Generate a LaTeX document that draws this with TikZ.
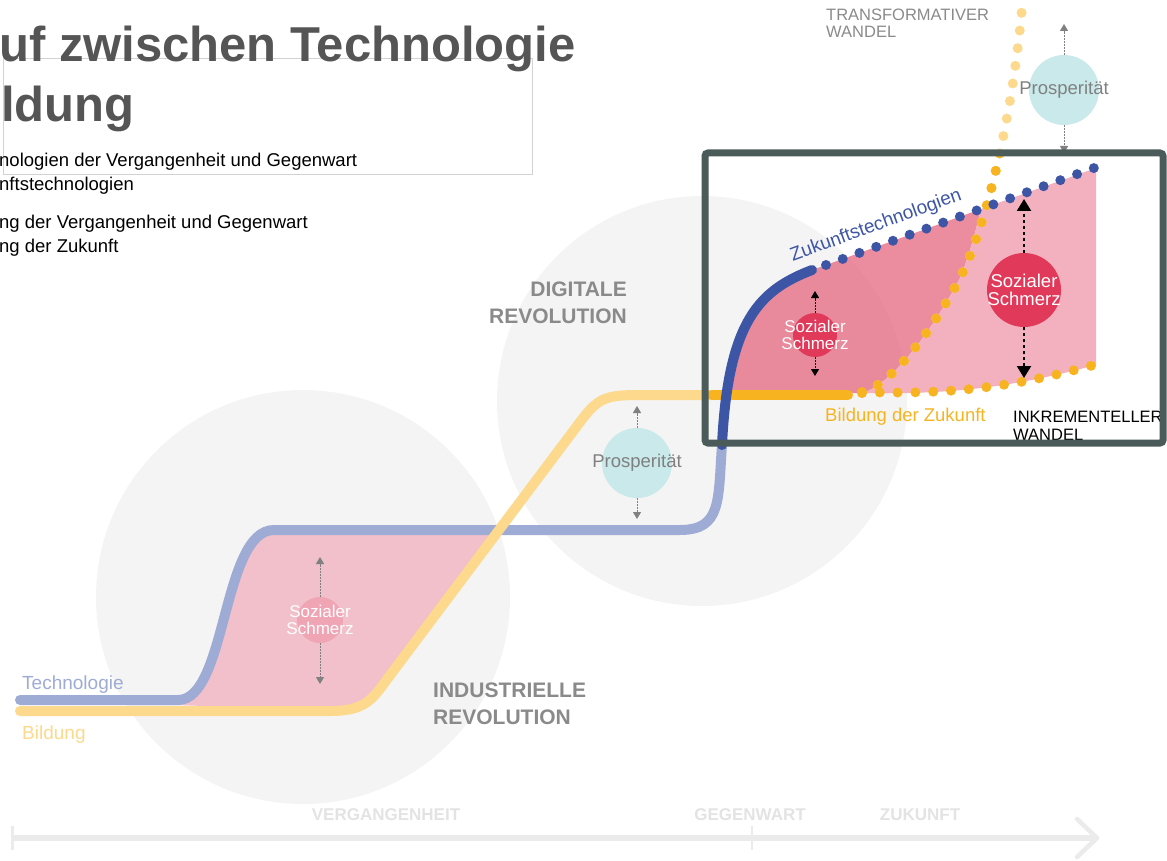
\documentclass[tikz,border=0pt]{standalone}
\usepackage{fontspec}
\setmainfont{Liberation Sans}
\usetikzlibrary{arrows.meta}

\definecolor{techlight}{HTML}{9EABD4}
\definecolor{techdark}{HTML}{3D55A5}
\definecolor{edulight}{HTML}{FCD98C}
\definecolor{edudark}{HTML}{F7B320}
\definecolor{bggray}{HTML}{F4F4F4}
\definecolor{painleft}{HTML}{F2C0CA}
\definecolor{painmid}{HTML}{E5667F}
\definecolor{painright}{HTML}{F3B1BF}
\definecolor{painball}{HTML}{E0395A}
\definecolor{painfaint}{HTML}{F0A5B5}
\definecolor{prosball}{HTML}{C9E9EA}
\definecolor{boxgray}{HTML}{4B5B5A}
\definecolor{labelgray}{HTML}{8A8A8A}
\definecolor{titlegray}{HTML}{555555}
\definecolor{axisgray}{HTML}{EBEBEB}

\newcommand{\fs}[1]{\fontsize{#1}{#1}\selectfont}
\newcommand{\transformpath}{(862,393) .. controls (890,385) and (930,335) .. (960,278) .. controls (985,230) and (1012,120) .. (1022,8)}

\tikzset{
  band/.style={line width=10pt, line cap=round},
  dotline/.style={line width=10pt, line cap=round, dash pattern=on 0pt off 17.8pt},
  ball/.style={circle, inner sep=0pt, draw=none},
  balltext/.style={inner sep=0pt, align=center, text=white},
  probe/.style={dash pattern=on 1.5pt off 1.5pt, line width=1pt, -{Triangle[length=7pt,width=8pt]}},
  bigprobe/.style={dash pattern=on 3pt off 3pt, line width=2.2pt, -{Triangle[length=12pt,width=14pt]}},
  era/.style={font=\bfseries\fontsize{21}{27}\selectfont, text=labelgray},
  when/.style={font=\bfseries\fs{17}, text=gray!22, anchor=base},
  legend/.style={anchor=base west, inner sep=0pt, font=\fs{18.5}},
}

\begin{document}
\begin{tikzpicture}[x=1pt, y=-1pt]
  \useasboundingbox (0,0) rectangle (1167,861);

  % title and legend
  \draw[gray!35, line width=0.8pt] (3,58) rectangle (532,174);
  \node[anchor=base west, inner sep=0pt, text=titlegray, font=\bfseries\fs{49}] (title1) at (-1,62) {uf zwischen Technologie};
  \node[anchor=base west, inner sep=0pt, text=titlegray, font=\bfseries\fs{49}] (title2) at (1,122) {ldung};
  \node[legend] (leg1) at (-1,167) {nologien der Vergangenheit und Gegenwart};
  \node[legend] (leg2) at (-1,191) {nftstechnologien};
  \node[legend] (leg3) at (-1,229) {ng der Vergangenheit und Gegenwart};
  \node[legend] (leg4) at (-1,252) {ng der Zukunft};

  % eras
  \fill[bggray] (303,597) circle[radius=207pt];
  \fill[bggray] (702,401) circle[radius=205pt];

  % time axis
  \coordinate (tstart) at (12,838);
  \coordinate (tend) at (1097,838);
  \draw[axisgray, line width=6pt] (tstart) -- (tend);
  \draw[axisgray, line width=3pt] (12,826) -- (12,850);
  \draw[axisgray, line width=2.5pt] (752,826) -- (752,850);
  \draw[axisgray, line width=4.5pt, line cap=round, line join=round] (1077,819) -- (tend) -- (1077,857);
  \node[when] (past) at (386,820) {VERGANGENHEIT};
  \node[when] (now) at (750,820) {GEGENWART};
  \node[when] (future) at (920,820) {ZUKUNFT};

  % social pain areas
  \fill[painleft] (178,705) -- (178,700) .. controls (227,700) and (222,530) .. (274,530) -- (499,530)
    -- (388,678) .. controls (372,700) and (365,711) .. (330,711) -- cycle;
  \begin{scope}
    \clip (700,0) rectangle (1167,395);
    \fill[painmid, opacity=0.75] (722,445) .. controls (728,320) and (760,290) .. (812,270) -- (826,265) -- (981,209)
      .. controls (974,238) and (967,262) .. (960,278) .. controls (930,335) and (890,385) .. (862,393) -- (700,395) -- (700,445) -- cycle;
  \end{scope}
  \fill[painright] (981,209) -- (1096,168) -- (1096,365) .. controls (1020,385) and (960,395) .. (862,393)
    .. controls (890,385) and (930,335) .. (960,278) .. controls (967,262) and (974,238) .. (981,209) -- cycle;

  % curves
  \draw[band, techlight] (20,700) -- (178,700) .. controls (227,700) and (222,530) .. (274,530) -- (680,530)
    .. controls (722,530) and (718,500) .. (722,445);
  \draw[band, edulight] (20,711) -- (330,711) .. controls (365,711) and (372,700) .. (388,678) -- (580,422)
    .. controls (598,398) and (605,395) .. (640,395) -- (712,395);
  \draw[band, edudark] (712,395) -- (848,395);
  \draw[band, techdark] (722,445) .. controls (728,320) and (760,290) .. (812,270);

  % future paths
  \draw[dotline, edulight] \transformpath;
  \begin{scope}
    \clip (705,153) rectangle (1163,443);
    \draw[dotline, edudark] \transformpath;
  \end{scope}
  \draw[dotline, edudark] (862,392) .. controls (960,395) and (1020,385) .. (1094,365);
  \draw[dotline, techdark] (826,265) -- (1094,168);
  \node[rotate=20, text=techdark, font=\fs{19}, inner sep=0pt] (futtech) at (876,226) {Zukunftstechnologien};

  % pain and prosperity
  \node[ball, fill=painfaint, minimum size=46pt] (pain1) at (320,620) {};
  \node[balltext, font=\fs{17}] (pain1txt) at (pain1) {Sozialer\\Schmerz};
  \coordinate (pain1up) at (320,557);
  \coordinate (pain1dn) at (320,684);
  \draw[probe, gray] (pain1.north) -- (pain1up);
  \draw[probe, gray] (pain1.south) -- (pain1dn);

  \node[ball, fill=painball, minimum size=44pt] (pain2) at (815,335) {};
  \node[balltext, font=\fs{17}] (pain2txt) at (pain2) {Sozialer\\Schmerz};
  \coordinate (pain2up) at (815,291);
  \coordinate (pain2dn) at (815,376);
  \draw[probe, black] (pain2.north) -- (pain2up);
  \draw[probe, black] (pain2.south) -- (pain2dn);

  \node[ball, fill=painball, minimum size=74pt] (pain3) at (1024,290) {};
  \node[balltext, font=\fs{18.5}] (pain3txt) at (pain3) {Sozialer\\Schmerz};
  \coordinate (pain3up) at (1024,199);
  \coordinate (pain3dn) at (1024,378);
  \draw[bigprobe, black] (pain3.north) -- (pain3up);
  \draw[bigprobe, black] (pain3.south) -- (pain3dn);

  \node[ball, fill=prosball, minimum size=70pt] (pros1) at (637,463) {};
  \node[inner sep=0pt, text=gray, font=\fs{18.5}] (pros1txt) at (pros1) {Prosperität};
  \coordinate (pros1up) at (637,406);
  \coordinate (pros1dn) at (637,519);
  \draw[probe, gray] (pros1.north) -- (pros1up);
  \draw[probe, gray] (pros1.south) -- (pros1dn);

  \node[ball, fill=prosball, minimum size=70pt] (pros2) at (1064,90) {};
  \node[inner sep=0pt, text=gray, font=\fs{18.5}] (pros2txt) at (pros2) {Prosperität};
  \coordinate (pros2up) at (1064,24);
  \coordinate (pros2dn) at (1064,153);
  \draw[probe, gray] (pros2.north) -- (pros2up);
  \draw[probe, gray] (pros2.south) -- (pros2dn);

  % labels
  \node[anchor=base west, inner sep=0pt, text=techlight, font=\fs{19}] (techlbl) at (22,689) {Technologie};
  \node[anchor=base west, inner sep=0pt, text=edulight, font=\fs{19}] (edulbl) at (22,739) {Bildung};
  \node[era, anchor=base west, align=left, inner sep=0pt] (indrev) at (433,724) {INDUSTRIELLE\\REVOLUTION};
  \node[era, anchor=base east, align=right, inner sep=0pt] (digrev) at (627,323) {DIGITALE\\REVOLUTION};
  \node[anchor=base west, inner sep=0pt, text=edudark, font=\fs{18.5}] (futedu) at (825,421) {Bildung der Zukunft};
  \node[anchor=base west, inner sep=0pt, align=left, font=\fontsize{16.5}{18}\selectfont] (incr) at (1013,440) {INKREMENTELLER\\WANDEL};
  \node[anchor=base west, inner sep=0pt, align=left, text=labelgray, font=\fontsize{16.5}{17}\selectfont] (trans) at (826,38) {TRANSFORMATIVER\\WANDEL};

  % focus box
  \draw[boxgray, line width=7pt, rounded corners=3pt] (705,153) rectangle (1163,443);
\end{tikzpicture}
\end{document}
